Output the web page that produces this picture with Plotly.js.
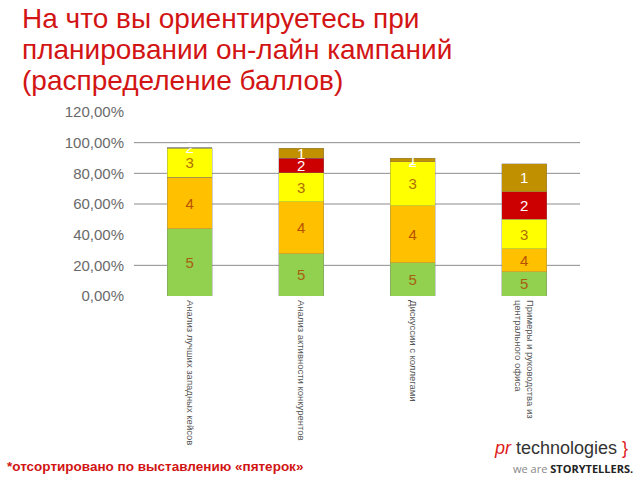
<!DOCTYPE html>
<html>
<head>
<meta charset="utf-8">
<script src="https://cdn.plot.ly/plotly-3.0.1.min.js"></script>
<style>
html,body{margin:0;padding:0;background:#fff;}
#chart{width:640px;height:480px;}
</style>
</head>
<body>
<div id="chart"></div>
<script>
var categories = [
  "Анализ лучших западных кейсов",
  "Анализ активности конкурентов",
  "Дискуссии с коллегами",
  "Примеры и руководства из<br>центрального офиса"
];
var score5 = [0.437, 0.274, 0.217, 0.159];
var score4 = [0.339, 0.341, 0.370, 0.148];
var score3 = [0.189, 0.189, 0.287, 0.193];
var score2 = [0.003, 0.096, 0.003, 0.180];
var score1 = [0.000, 0.063, 0.020, 0.181];
var seriesNames = ["5", "4", "3", "2", "1"];
var seriesColors = ["#92D050", "#FFC000", "#FFFF00", "#CC0000", "#C09000"];
var labelColors = ["#A86010", "#B85000", "#B07000", "#ffffff", "#ffffff"];
var gridVals = [0.2, 0.6, 0.8, 1.0];
var tickVals = [0, 0.2, 0.4, 0.6, 0.8, 1.0, 1.2];
var titleLines = [
  "На что вы ориентируетесь при",
  "планировании он-лайн кампаний",
  "(распределение баллов)"
];

var seriesValues = [score5, score4, score3, score2, score1];
var traces = seriesValues.map(function (vals, i) {
  return {
    type: "bar",
    x: categories,
    y: vals,
    name: seriesNames[i],
    marker: {color: seriesColors[i], line: {color: "rgba(120,120,120,0.6)", width: 0.6}},
    text: vals.map(function () { return seriesNames[i]; }),
    texttemplate: "%{text}",
    textposition: "inside",
    insidetextanchor: "middle",
    textangle: 0,
    textfont: {family: "Arial, Liberation Sans, sans-serif", size: 15, color: labelColors[i]},
    constraintext: "none",
    cliponaxis: false,
    hoverinfo: "skip"
  };
});

var shapes = gridVals.map(function (v) {
  return {type: "line", xref: "paper", yref: "y", x0: 0, x1: 1, y0: v, y1: v,
          line: {color: "#8c8c8c", width: 1}, layer: "below"};
});

var annotations = titleLines.map(function (t, i) {
  return {xref: "paper", yref: "paper", x: -0.255, y: 1.0, yshift: 94 - 31 * i,
          xanchor: "left", yanchor: "middle", align: "left", showarrow: false,
          text: t,
          font: {size: 28, color: "#D21414", family: "Arial, Liberation Sans, sans-serif"}};
});
annotations.push(
  {xref: "paper", yref: "paper", x: -0.29, y: 0, yshift: -170, xanchor: "left", yanchor: "middle",
   showarrow: false,
   text: "<b>*отсортировано по выставлению «пятерок»</b>",
   font: {size: 13.5, color: "#D21414", family: "Arial, Liberation Sans, sans-serif"}},
  {xref: "paper", yref: "paper", x: 1.0, y: 0, xshift: 50, yshift: -152, xanchor: "right", yanchor: "middle",
   showarrow: false,
   text: "<i><span style='color:#E02020'>pr</span></i> technologies <span style='color:#E02020'>}</span>",
   font: {size: 18, color: "#333333", family: "Liberation Sans Narrow, Arial Narrow, Arial, sans-serif"}},
  {xref: "paper", yref: "paper", x: 1.0, y: 0, xshift: 55, yshift: -172, xanchor: "right", yanchor: "middle",
   showarrow: false,
   text: "<span style='color:#888888'>we are</span> <b>STORYTELLERS.</b>",
   font: {size: 11, color: "#222222", family: "Open Sans, Arial, sans-serif"}}
);

var layout = {
  width: 640, height: 480,
  margin: {l: 134, r: 60, t: 112, b: 184},
  paper_bgcolor: "#ffffff",
  plot_bgcolor: "#ffffff",
  barmode: "stack",
  bargap: 0.6,
  showlegend: false,
  separators: ", ",
  font: {family: "Arial, Liberation Sans, sans-serif"},
  shapes: shapes,
  xaxis: {
    type: "category",
    showgrid: false, showline: false, zeroline: false, ticks: "",
    tickangle: 90,
    tickfont: {size: 9.5, color: "#555555"},
    ticklabelstandoff: 3,
    range: [-0.5, 3.5]
  },
  yaxis: {
    range: [0, 1.2],
    tickvals: tickVals,
    tickformat: ".2%",
    showgrid: false, zeroline: false, showline: false, ticks: "",
    ticklabelstandoff: 9,
    tickfont: {size: 15, color: "#6a6a6a"}
  },
  annotations: annotations
};

Plotly.newPlot("chart", traces, layout, {displayModeBar: false, staticPlot: true});
</script>
</body>
</html>
